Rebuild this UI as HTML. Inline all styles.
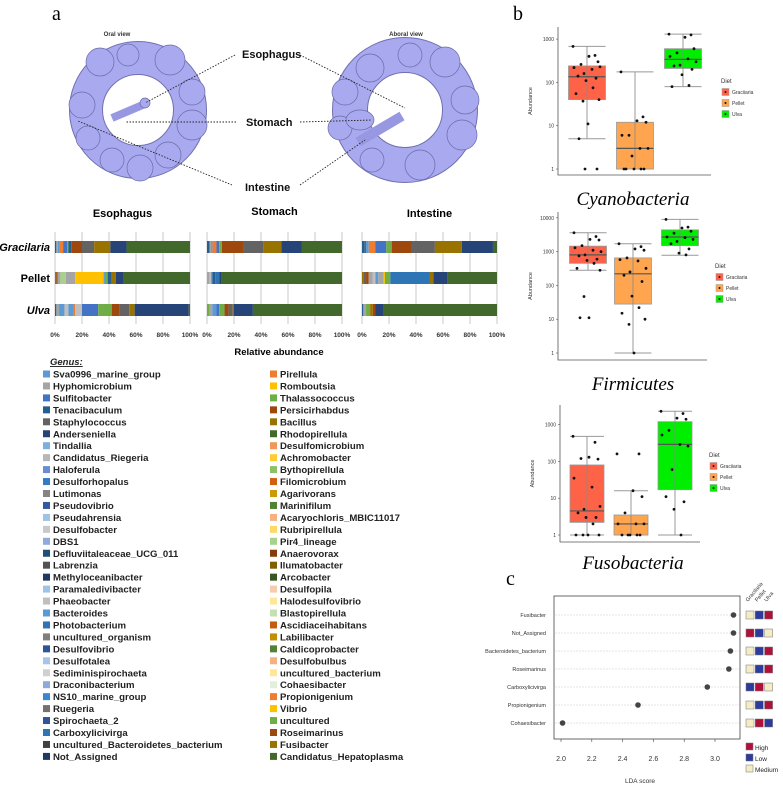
<!DOCTYPE html>
<html><head><meta charset="utf-8"><style>
body{margin:0;background:#fff;}
svg{display:block;font-family:"Liberation Sans",sans-serif;}
</style></head><body>
<svg id="fig" width="783" height="785" viewBox="0 0 783 785" xmlns="http://www.w3.org/2000/svg">
<rect width="783" height="785" fill="#fff"/>
<text x="52" y="20" font-family="Liberation Serif,serif" font-size="20">a</text>
<text x="513" y="20" font-family="Liberation Serif,serif" font-size="20">b</text>
<text x="506" y="585" font-family="Liberation Serif,serif" font-size="20">c</text>
<g id="illus">
<text x="117" y="36" font-size="6" font-weight="bold" fill="#333" text-anchor="middle">Oral view</text>
<text x="406" y="36" font-size="6" font-weight="bold" fill="#333" text-anchor="middle">Aboral view</text>
<g fill="none">
<circle cx="138" cy="110" r="52" stroke="#7070b0" stroke-width="34" />
<circle cx="138" cy="110" r="52" stroke="#a9a9f0" stroke-width="32" />
<circle cx="405" cy="110" r="55" stroke="#7070b0" stroke-width="36" />
<circle cx="405" cy="110" r="55" stroke="#a9a9f0" stroke-width="34" />
</g>
<g fill="#a9a9f0" stroke="#6a6aa8" stroke-width="0.7">
<circle cx="100" cy="62" r="14"/><circle cx="128" cy="55" r="11"/><circle cx="170" cy="60" r="15"/><circle cx="192" cy="92" r="13"/><circle cx="192" cy="125" r="15"/><circle cx="82" cy="105" r="13"/><circle cx="88" cy="138" r="12"/><circle cx="112" cy="160" r="12"/><circle cx="140" cy="168" r="13"/><circle cx="168" cy="155" r="13"/>
<circle cx="370" cy="68" r="14"/><circle cx="410" cy="55" r="12"/><circle cx="445" cy="62" r="15"/><circle cx="465" cy="100" r="14"/><circle cx="462" cy="135" r="15"/><circle cx="345" cy="92" r="13"/><circle cx="340" cy="128" r="12"/><circle cx="372" cy="160" r="12"/><circle cx="420" cy="165" r="15"/>
</g>
<g stroke="#6a6aa8" stroke-width="0.7">
<line x1="112" y1="118" x2="145" y2="104" stroke="#9898e2" stroke-width="8"/>
<circle cx="145" cy="103" r="5" fill="#a9a9f0"/>
<line x1="358" y1="142" x2="402" y2="116" stroke="#9898e2" stroke-width="10"/>
<ellipse cx="360" cy="120" rx="14" ry="10" fill="#a9a9f0"/>
</g>
<g font-size="11" font-weight="bold" fill="#111">
<text x="242" y="58">Esophagus</text>
<text x="246" y="126">Stomach</text>
<text x="245" y="191">Intestine</text>
</g>
<g stroke="#222" stroke-width="0.9" stroke-dasharray="1.5,1.5" fill="none">
<line x1="235" y1="55" x2="145" y2="103"/><line x1="300" y1="55" x2="405" y2="108"/>
<line x1="236" y1="122" x2="125" y2="122"/><line x1="300" y1="122" x2="372" y2="120"/>
<line x1="232" y1="185" x2="78" y2="121"/><line x1="300" y1="185" x2="365" y2="140"/>
</g>
</g>
<g id="stack"></g>
<g id="legend"></g>
<g id="boxes"></g>
<g id="lda"></g>
</svg>
<script>
const NS="http://www.w3.org/2000/svg";
function mk(p,t,a,txt){const e=document.createElementNS(NS,t);for(const k in a)e.setAttribute(k,a[k]);if(txt!==undefined)e.textContent=txt;p.appendChild(e);return e;}

// ---------- Stacked bars ----------
const sites=["Esophagus","Stomach","Intestine"];
const diets=["Gracilaria","Pellet","Ulva"];
const segColors=["#255e91","#a5a5a5","#5b9bd5","#ed7d31","#4472c4","#70ad47","#9e480e","#636363","#997300","#264478","#43682b","#ffc000","#a9d18e","#2e75b6","#bfbfbf"];
// each segment: [colorIndex, percent]
const esoGrac=[[0,1],[1,1],[2,1],[3,3],[4,3],[5,1],[0,2],[6,8],[7,9],[8,12],[9,12],[10,47]];
const esoPell=[[8,1],[6,1],[1,2],[12,4],[1,7],[11,21],[2,1],[5,2],[0,3],[8,3],[9,6],[10,49]];
const esoUlva=[[0,1],[1,2],[2,4],[14,3],[2,4],[3,1],[14,5],[4,12],[5,10],[6,6],[7,7],[8,4],[9,40],[10,1]];
const stoGrac=[[0,2],[1,1],[2,1],[3,3],[4,2],[5,2],[6,16],[7,15],[8,13],[9,15],[10,30]];
const stoPell=[[1,2],[14,1],[2,1],[0,2],[13,3],[9,2],[10,89]];
const stoUlva=[[5,2],[1,2],[2,3],[4,2],[5,4],[6,3],[7,3],[8,1],[9,14],[10,66]];
const intGrac=[[0,2],[7,1],[2,2],[3,5],[4,8],[5,4],[6,15],[7,17],[8,20],[9,23],[10,3]];
const intPell=[[8,1],[7,2],[6,2],[1,3],[14,2],[2,2],[1,4],[11,1],[5,4],[13,29],[8,3],[9,10],[10,37]];
const intUlva=[[0,1],[1,2],[5,3],[8,2],[6,2],[9,6],[10,84]];
const stackData=[[esoGrac,esoPell,esoUlva],[stoGrac,stoPell,stoUlva],[intGrac,intPell,intUlva]];
const pctTicks=["0%","20%","40%","60%","80%","100%"];
(function(){
 const g=document.getElementById('stack');
 const x0s=[55,207,362], W=135, rowY=[241,272,304], H=12;
 const titleY=[217,215,217];
 sites.forEach((s,si)=>{
  const x0=x0s[si];
  const t=mk(g,'text',{x:x0+W/2,y:titleY[si],'font-size':11,'font-weight':'bold','text-anchor':'middle'},s);
  
  
  pctTicks.forEach((lab,i)=>{
   const x=x0+W*i/(pctTicks.length-1);
   mk(g,'line',{x1:x,y1:232,x2:x,y2:324,stroke:'#bbb','stroke-width':0.8});
   const tl=mk(g,'text',{x:x,y:337,'font-size':6.5,'font-weight':'bold','text-anchor':'middle',fill:'#333'},lab);
   
   
  });
  stackData[si].forEach((segs,di)=>{
   let acc=0;
   segs.forEach(([ci,p])=>{
    const r=mk(g,'rect',{x:x0+W*acc/100,y:rowY[di],width:Math.max(0,W*p/100),height:H,fill:segColors[ci]});
    
    
    acc+=p;
   });
  });
 });
 const styles=[['italic'],['normal'],['italic']];
 diets.forEach((d,di)=>{
  const t=mk(g,'text',{x:50,y:rowY[di]+10,'font-size':11,'font-weight':'bold','font-style':styles[di][0],'text-anchor':'end'},d);
  
  
 });
 const at=mk(g,'text',{x:279,y:355,'font-size':9.5,'font-weight':'bold','text-anchor':'middle'},'Relative abundance');
 
 
})();

// ---------- Genus legend ----------
const genusLeft=["Sva0996_marine_group","Hyphomicrobium","Sulfitobacter","Tenacibaculum","Staphylococcus","Anderseniella","Tindallia","Candidatus_Riegeria","Haloferula","Desulforhopalus","Lutimonas","Pseudovibrio","Pseudahrensia","Desulfobacter","DBS1","Defluviitaleaceae_UCG_011","Labrenzia","Methyloceanibacter","Paramaledivibacter","Phaeobacter","Bacteroides","Photobacterium","uncultured_organism","Desulfovibrio","Desulfotalea","Sediminispirochaeta","Draconibacterium","NS10_marine_group","Ruegeria","Spirochaeta_2","Carboxylicivirga","uncultured_Bacteroidetes_bacterium","Not_Assigned"];
const colorLeft=["#5b9bd5","#a5a5a5","#4472c4","#255e91","#636363","#264478","#7cafdd","#b7b7b7","#698ed0","#327dc2","#848484","#335aa1","#9dc3e6","#c9c9c9","#8faadc","#1f4e79","#525252","#203864","#9dc3e6","#bfbfbf","#5b9bd5","#2e75b6","#7f7f7f","#2f5597","#a9c4eb","#d0d0d0","#8eaadb","#3a87d0","#767171","#2f5597","#2e75b6","#404040","#203864"];
const genusRight=["Pirellula","Romboutsia","Thalassococcus","Persicirhabdus","Bacillus","Rhodopirellula","Desulfomicrobium","Achromobacter","Bythopirellula","Filomicrobium","Agarivorans","Marinifilum","Acaryochloris_MBIC11017","Rubripirellula","Pir4_lineage","Anaerovorax","Ilumatobacter","Arcobacter","Desulfopila","Halodesulfovibrio","Blastopirellula","Ascidiaceihabitans","Labilibacter","Caldicoprobacter","Desulfobulbus","uncultured_bacterium","Cohaesibacter","Propionigenium","Vibrio","uncultured","Roseimarinus","Fusibacter","Candidatus_Hepatoplasma"];
const colorRight=["#ed7d31","#ffc000","#70ad47","#9e480e","#997300","#43682b","#f1975a","#ffcd33","#8cc168","#d26012","#cc9a06","#548235","#f4b183","#ffd966","#a9d18e","#843c0c","#7f6000","#375623","#f8cbad","#ffe699","#c5e0b4","#c55a11","#bf9000","#548235","#f4b183","#ffe699","#e2f0d9","#ed7d31","#ffc000","#70ad47","#9e480e","#997300","#43682b"];
(function(){
 const g=document.getElementById('legend');
 const gt=mk(g,'text',{x:50,y:365,'font-size':9.5,'font-weight':'bold','font-style':'italic','text-decoration':'underline',fill:'#222'},'Genus:');
 
 
 const y0=374, dy=11.95;
 [[genusLeft,colorLeft,43],[genusRight,colorRight,270]].forEach(([names,cols,x])=>{
  names.forEach((n,i)=>{
   const y=y0+dy*i;
   const e=mk(g,'g',{});
   
   
   mk(e,'rect',{x:x,y:y-3.5,width:7,height:7,fill:cols[i]});
   mk(e,'text',{x:x+10,y:y+3.5,'font-size':9.6,'font-weight':'bold',fill:'#222'},n);
  });
 });
})();

// ---------- Box plots ----------
const groups=["Graciiaria","Pellet","Ulva"];
const boxFill=["#ff6347","#ffa54f","#00ee00"];
// [whiskerLow, q1, median, q3, whiskerHigh]
const cyanoStats=[[5,40,135,240,680],[1,1,3,12,175],[80,210,340,600,1300]];
const firmiStats=[[280,450,800,1450,3600],[1,28,220,650,1700],[780,1500,2700,4400,9000]];
const fusoStats=[[1,2.2,4.5,80,480],[1,1,2,3.5,16],[1,17,290,1200,2300]];
const cyanoPts=[[680,420,400,300,260,220,200,230,160,140,125,110,75,55,40,37,11,5,1,1],[175,16,13,12,6,6,3,3,2,1,1,1,1,1],[1300,1250,1100,600,480,400,350,300,250,240,200,150,85,80]];
const firmiPts=[[3600,2800,2300,2200,1500,1300,1100,1000,800,750,600,550,450,320,280,47,11,11],[1700,1400,1200,1100,650,580,530,320,250,200,130,48,22,15,10,7,1],[9000,5300,5000,4000,3500,2700,2600,2300,2000,1700,1200,900,800]];
const fusoPts=[[480,330,130,115,120,35,20,6,5,4,3,3,2,1,1,1,1],[160,160,16,11,4,2,2,2,1,1,1,1,1],[2300,2000,1500,1400,700,520,290,260,60,11,8,5,1]];
const jitter=[-14,8,2,11,-6,-13,5,13,-3,-9,9,-1,6,-11,12,-4,1,-8,10,-2];
const titles=["Cyanobacteria","Firmicutes","Fusobacteria"];
const panels=[
 {stats:cyanoStats,pts:cyanoPts,ticks:[1,10,100,1000],ax:[558,711,27,175],yDec:[169,43.3],cx:[587,635,683],bw:37,leg:[722,83],ty:205},
 {stats:firmiStats,pts:firmiPts,ticks:[1,10,100,1000,10000],ax:[558,707,212,360],yDec:[353,33.8],cx:[588,633,680],bw:37,leg:[716,268],ty:390},
 {stats:fusoStats,pts:fusoPts,ticks:[1,10,100,1000],ax:[560,700,405,542],yDec:[535,36.8],cx:[587,631,675],bw:34,leg:[710,457],ty:569}
];
(function(){
 const g=document.getElementById('boxes');
 panels.forEach((P,pi)=>{
  const pg=mk(g,'g',{});
  
  
  const y=v=>P.yDec[0]-Math.log10(v)*P.yDec[1];
  const [x0,x1,yt,yb]=P.ax;
  mk(pg,'polyline',{points:`${x0},${yt} ${x0},${yb} ${x1},${yb}`,fill:'none',stroke:'#555','stroke-width':0.8});
  P.ticks.forEach(t=>{
   mk(pg,'line',{x1:x0-2,y1:y(t),x2:x0,y2:y(t),stroke:'#555','stroke-width':0.6});
   const tl=mk(pg,'text',{x:x0-4,y:y(t)+2,'font-size':5,'text-anchor':'end',fill:'#333'},String(t));
   
   
  });
  const ym=(yt+yb)/2;
  const yl=mk(pg,'text',{x:0,y:0,'font-size':5.5,'text-anchor':'middle',fill:'#333',transform:`translate(${x0-26},${ym}) rotate(-90)`},'Abundance');
  
  
  P.stats.forEach((s,gi)=>{
   const cx=P.cx[gi], bw=P.bw;
   mk(pg,'line',{x1:cx,y1:y(s[0]),x2:cx,y2:y(s[4]),stroke:'#999','stroke-width':1});
   mk(pg,'line',{x1:cx-bw/2,y1:y(s[0]),x2:cx+bw/2,y2:y(s[0]),stroke:'#999','stroke-width':1});
   mk(pg,'line',{x1:cx-bw/2,y1:y(s[4]),x2:cx+bw/2,y2:y(s[4]),stroke:'#999','stroke-width':1});
   const b=mk(pg,'rect',{x:cx-bw/2,y:y(s[3]),width:bw,height:y(s[1])-y(s[3]),fill:boxFill[gi],stroke:'#999','stroke-width':0.8});
   
   
   mk(pg,'line',{x1:cx,y1:y(s[1]),x2:cx,y2:y(s[3]),stroke:'#888','stroke-width':0.8});
   mk(pg,'line',{x1:cx-bw/2,y1:y(s[2]),x2:cx+bw/2,y2:y(s[2]),stroke:'#555','stroke-width':1.2});
   P.pts[gi].forEach((v,k)=>{
    const c=mk(pg,'circle',{cx:cx+jitter[k%jitter.length],cy:y(v),r:1.4,fill:'#111'});
    
    
   });
  });
  const [lx,ly]=P.leg;
  mk(pg,'text',{x:lx-1,y:ly,'font-size':6,fill:'#333'},'Diet');
  groups.forEach((gname,gi)=>{
   const e=mk(pg,'g',{});
   
   
   const yy=ly+9+gi*11;
   mk(e,'rect',{x:lx,y:yy-3.5,width:7,height:7,fill:boxFill[gi],stroke:'#999','stroke-width':0.5});
   mk(e,'circle',{cx:lx+3.5,cy:yy,r:1,fill:'#111'});
   mk(e,'text',{x:lx+10,y:yy+2,'font-size':5,fill:'#333'},gname);
  });
  const tt=mk(pg,'text',{x:633,y:P.ty,'font-size':19,'font-style':'italic','font-family':'Liberation Serif,serif','text-anchor':'middle'},titles[pi]);
  
  
 });
})();

// ---------- LDA ----------
const ldaTaxa=["Fusibacter","Not_Assigned","Bacteroidetes_bacterium","Roseimarinus","Carboxylicivirga","Propionigenium","Cohaesibacter"];
const ldaScores=[3.12,3.12,3.10,3.09,2.95,2.50,2.01];
const ldaTicks=[2.0,2.2,2.4,2.6,2.8,3.0];
const levelCols={H:"#b0103a",L:"#2c3b9c",M:"#f3ecc5"};
const heatGrac=["M","H","M","M","L","M","M"];
const heatPell=["L","L","L","L","H","L","H"];
const heatUlva=["H","M","H","H","M","H","L"];
(function(){
 const g=document.getElementById('lda');
 const x=v=>561+(v-2.0)*154;
 const y=i=>615+i*18;
 mk(g,'rect',{x:554,y:596,width:186,height:143,fill:'none',stroke:'#444','stroke-width':0.8});
 ldaTicks.forEach(t=>{
  mk(g,'line',{x1:x(t),y1:739,x2:x(t),y2:742,stroke:'#444','stroke-width':0.6});
  const tl=mk(g,'text',{x:x(t),y:761,'font-size':7,'text-anchor':'middle',fill:'#333'},t.toFixed(1));
  
  
 });
 const xt=mk(g,'text',{x:640,y:783,'font-size':6.5,'text-anchor':'middle',fill:'#333'},'LDA score');
 
 
 ldaTaxa.forEach((n,i)=>{
  mk(g,'line',{x1:555,y1:y(i),x2:739,y2:y(i),stroke:'#ccc','stroke-width':0.6,'stroke-dasharray':'2,1'});
  const tl=mk(g,'text',{x:546,y:y(i)+2,'font-size':5.5,'text-anchor':'end',fill:'#333'},n);
  
  
  const d=mk(g,'circle',{cx:x(ldaScores[i]),cy:y(i),r:2.8,fill:'#444'});
  
  
  [heatGrac,heatPell,heatUlva].forEach((col,ci)=>{
   const c=mk(g,'rect',{x:746+ci*9.3,y:y(i)-4,width:8,height:8,fill:levelCols[col[i]],stroke:'#777','stroke-width':0.5});
   
   
  });
 });
 ["Gracilaria","Pellet","Ulva"].forEach((n,ci)=>{
  mk(g,'text',{x:0,y:0,'font-size':5.5,fill:'#333',transform:`translate(${748+ci*9.3},${602}) rotate(-50)`},n);
 });
 [["High","H"],["Low","L"],["Medium","M"]].forEach(([n,k],i)=>{
  const e=mk(g,'g',{});
  
  
  const yy=747+i*11;
  mk(e,'rect',{x:746,y:yy-4,width:7,height:7,fill:levelCols[k],stroke:'#777','stroke-width':0.5});
  mk(e,'text',{x:755,y:yy+3,'font-size':6.5,fill:'#222'},n);
 });
})();
</script>
</body></html>
